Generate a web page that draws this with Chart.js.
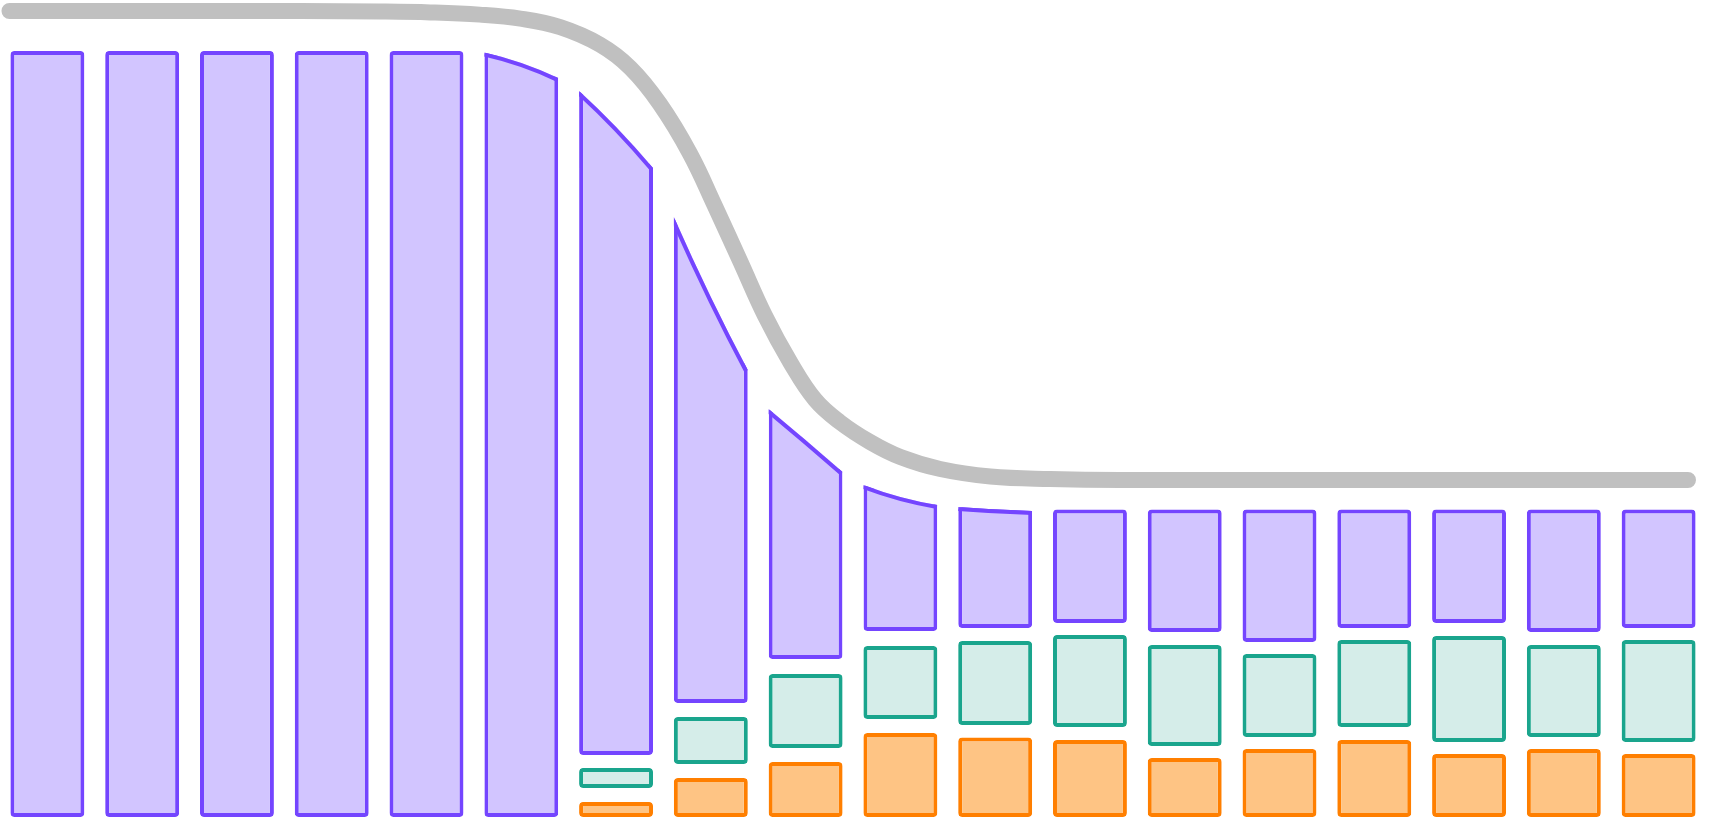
<!DOCTYPE html>
<html>
<head>
<meta charset="utf-8">
<script src="https://cdn.jsdelivr.net/npm/chart.js@4.4.1/dist/chart.umd.min.js"></script>
<style>
  html, body { margin: 0; padding: 0; background: #ffffff; }
  #wrap { width: 1712px; height: 819px; }
</style>
</head>
<body>
<div id="wrap"><canvas id="c" width="1712" height="819"></canvas></div>
<script>
// ---------- data ----------
const categories = ['1','2','3','4','5','6','7','8','9','10','11','12','13','14','15','16','17','18'];

// orange (bottom) segment: from 0 up to orangeTop
const orangeTop  = [null, null, null, null, null, null, 1.84, 4.77, 6.73, 10.28, 9.73, 9.42, 7.22, 8.32, 9.42, 7.71, 8.32, 7.71];
// green (middle) segment: floating from greenLow to greenHigh
const greenLow   = [null, null, null, null, null, null, 3.55, 6.49, 8.45, 12.00, 11.26, 11.02, 8.69, 9.79, 11.02, 9.18, 9.79, 9.18];
const greenHigh  = [null, null, null, null, null, null, 6.00, 12.24, 17.50, 20.93, 21.54, 22.28, 21.05, 19.95, 21.66, 22.15, 21.05, 21.66];
// purple (top) segment: floating from purpleLow to purpleHigh (top at left edge)
const purpleLow  = [0, 0, 0, 0, 0, 0, 7.59, 13.95, 19.34, 22.77, 23.13, 23.75, 22.64, 21.42, 23.13, 23.75, 22.64, 23.13];
const purpleHigh = [93.76, 93.76, 93.76, 93.76, 93.76, 93.57, 88.86, 73.44, 49.94, 40.64, 37.94, 37.64, 37.64, 37.64, 37.64, 37.64, 37.64, 37.64];
// curved tops: value at the middle and at the right edge of the bar
const purpleTopMid   = [null, null, null, null, null, 92.29, 84.46, 63.65, 46.14, 39.17, 37.64, null, null, null, null, null, null, null];
const purpleTopRight = [null, null, null, null, null, 90.45, 79.44, 54.71, 42.23, 38.19, 37.45, null, null, null, null, null, null, null];

// gray trend line (x in category units)
const trendX = [-0.40, 2.67, 3.51, 4.04, 4.56, 4.99, 5.41, 5.83, 6.15, 6.46, 6.78, 7.04, 7.31, 7.57, 7.84, 8.10, 8.36, 8.68, 9.00, 9.42, 9.95, 10.58, 11.32, 17.31];
const trendY = [98.65, 98.65, 98.59, 98.48, 98.21, 97.72, 96.67, 94.53, 91.69, 87.31, 81.20, 74.86, 68.02, 61.38, 55.62, 51.08, 48.35, 45.90, 44.06, 42.59, 41.68, 41.37, 41.25, 41.25];

// ---------- styles ----------
const PURPLE_BORDER = 'rgb(116,69,255)';
const PURPLE_FILL   = 'rgb(210,197,255)';
const GREEN_BORDER  = 'rgb(26,165,141)';
const GREEN_FILL    = 'rgb(213,237,233)';
const ORANGE_BORDER = 'rgb(255,127,0)';
const ORANGE_FILL   = 'rgb(254,196,132)';
const GRAY          = 'rgb(192,192,192)';

const barCommon = {
  type: 'bar',
  xAxisID: 'x',
  yAxisID: 'y',
  grouped: false,
  barPercentage: 0.78,
  categoryPercentage: 1.0,
  borderWidth: 4,
  borderRadius: 4,
  borderSkipped: false
};

const curvedTopPlugin = {
  id: 'curvedTop',
  beforeDatasetDraw(chart, args) {
    const ds = chart.data.datasets[args.index];
    if (!ds.curvedTop) return;
    const ctx = chart.ctx;
    const yScale = chart.scales.y;
    const area = chart.chartArea;
    args.meta.data.forEach((bar, i) => {
      if (purpleHigh[i] == null) return;
      if (purpleTopMid[i] == null) { bar.draw(ctx, area); return; }
      const props = bar.getProps(['x', 'width'], true);
      const l = props.x - props.width / 2;
      const r = props.x + props.width / 2;
      const yl = yScale.getPixelForValue(purpleHigh[i]);
      const ym = yScale.getPixelForValue(purpleTopMid[i]);
      const yr = yScale.getPixelForValue(purpleTopRight[i]);
      const yb = yScale.getPixelForValue(purpleLow[i]);
      const cy = 2 * ym - (yl + yr) / 2;
      ctx.save();
      const region = new Path2D();
      region.moveTo(l, yb + 2);
      region.lineTo(l, yl);
      region.quadraticCurveTo(props.x, cy, r, yr);
      region.lineTo(r, yb + 2);
      region.closePath();
      ctx.clip(region);
      bar.draw(ctx, area);
      const top = new Path2D();
      top.moveTo(l, yl);
      top.quadraticCurveTo(props.x, cy, r, yr);
      ctx.lineWidth = ds.borderWidth * 2;
      ctx.strokeStyle = ds.borderColor;
      ctx.lineCap = 'butt';
      ctx.lineJoin = 'round';
      ctx.stroke(top);
      ctx.restore();
    });
    return false;
  }
};

const chart = new Chart(document.getElementById('c'), {
  data: {
    labels: categories,
    datasets: [
      Object.assign({}, barCommon, {
        label: 'orange',
        data: orangeTop.map(v => v == null ? null : [0, v]),
        backgroundColor: ORANGE_FILL,
        borderColor: ORANGE_BORDER
      }),
      Object.assign({}, barCommon, {
        label: 'green',
        data: greenLow.map((v, i) => v == null ? null : [v, greenHigh[i]]),
        backgroundColor: GREEN_FILL,
        borderColor: GREEN_BORDER
      }),
      Object.assign({}, barCommon, {
        label: 'purple',
        curvedTop: true,
        data: purpleLow.map((v, i) => [v, purpleHigh[i]]),
        backgroundColor: PURPLE_FILL,
        borderColor: PURPLE_BORDER
      }),
      {
        type: 'line',
        label: 'trend',
        xAxisID: 'x2',
        yAxisID: 'y',
        data: trendX.map((x, i) => ({ x: x, y: trendY[i] })),
        borderColor: GRAY,
        borderWidth: 16,
        borderCapStyle: 'round',
        borderJoinStyle: 'round',
        tension: 0.4,
        pointRadius: 0,
        fill: false
      }
    ]
  },
  options: {
    responsive: false,
    devicePixelRatio: 1,
    animation: false,
    layout: { padding: { left: 0, right: 6, top: 0, bottom: 2 } },
    plugins: {
      legend: { display: false },
      tooltip: { enabled: false },
      title: { display: false }
    },
    scales: {
      x: { type: 'category', display: false, offset: true, grid: { display: false } },
      x2: { type: 'linear', display: false, min: -0.5, max: 17.5 },
      y: { type: 'linear', display: false, min: 0, max: 100 }
    }
  },
  plugins: [curvedTopPlugin]
});
</script>
</body>
</html>
